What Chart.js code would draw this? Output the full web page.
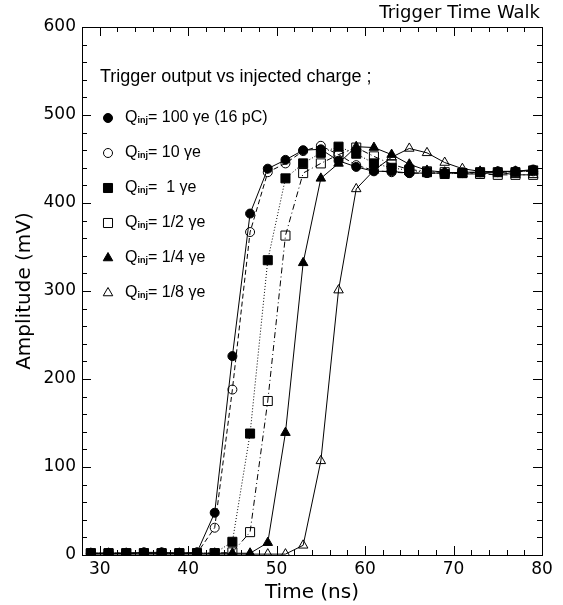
<!DOCTYPE html>
<html>
<head>
<meta charset="utf-8">
<script src="https://cdn.jsdelivr.net/npm/chart.js@4/dist/chart.umd.min.js"></script>
<style>
  html, body { margin: 0; background: #fff; }
  #wrap { width: 563px; height: 605px; }
</style>
</head>
<body>
<div id="wrap"><canvas id="walkChart"></canvas></div>
<script>
// injection time (ns) and amplitudes (mV)
const times = [29,31,33,35,37,39,41,43,45,47,49,51,53,55,57,59,61,63,65,67,69,71,73,75,77,79];
const amp100     = [2,2,2,3,3,2,3,48,226,388,439,449,460,461,448,441,436,436,434,434,434,435,435,436,436,438];
const amp10      = [2,2,2,2,2,2,2,31,188,367,435,445,459,465,455,443,437,435,434,434,434,434,435,435,436,436];
const amp1       = [2,2,2,2,2,2,2,2,15,138,335,428,445,457,464,456,445,440,437,435,433,434,435,435,435,437];
const ampHalf    = [2,2,2,2,2,2,2,2,3,26,175,363,434,445,455,463,453,444,438,436,435,434,433,432,432,432];
const ampQuarter = [2,2,2,2,2,2,2,2,2,2,14,139,332,428,445,464,463,455,444,437,435,433,433,435,436,437];
const ampEighth  = [1,1,1,1,1,1,1,1,1,1,1,1,11,107,301,416,437,452,462,457,446,439,436,435,432,432];

const chargeLabels = ['100 \u03b3e (16 pC)', '10 \u03b3e', ' 1 \u03b3e', '1/2 \u03b3e', '1/4 \u03b3e', '1/8 \u03b3e'];
const xTickLabels = [30, 40, 50, 60, 70, 80];
const yTickLabels = [0, 100, 200, 300, 400, 500, 600];

const series = [amp100, amp10, amp1, ampHalf, ampQuarter, ampEighth];
const markers = [
  { style: 'circle',   filled: true,  r: 4.5, dash: [] },
  { style: 'circle',   filled: false, r: 4.5, dash: [5, 3] },
  { style: 'rect',     filled: true,  r: 6.4, dash: [1, 2] },
  { style: 'rect',     filled: false, r: 6.4, dash: [6, 3, 1, 3] },
  { style: 'triangle', filled: true,  r: 5.5, dash: [] },
  { style: 'triangle', filled: false, r: 5.5, dash: [] }
];

const datasets = series.map((vals, i) => ({
  label: chargeLabels[i],
  data: times.map((t, j) => ({ x: t, y: vals[j] })),
  borderColor: '#000',
  borderWidth: 1,
  borderDash: markers[i].dash,
  pointStyle: markers[i].style,
  pointRadius: markers[i].r,
  pointBorderWidth: 1,
  pointBorderColor: '#000',
  pointBackgroundColor: markers[i].filled ? '#000' : 'rgba(0,0,0,0)',
  tension: 0
}));

// frame with inward ticks on all four sides, title and the text legend
const frameAndLegend = {
  id: 'frameAndLegend',
  afterDraw(chart) {
    const { ctx, chartArea: a, scales: { x, y } } = chart;
    ctx.save();
    ctx.strokeStyle = '#000';
    ctx.lineWidth = 1;
    ctx.setLineDash([]);
    ctx.strokeRect(Math.round(a.left) + 0.5, Math.round(a.top) + 0.5,
                   Math.round(a.right - a.left), Math.round(a.bottom - a.top));
    ctx.beginPath();
    for (let v = 28; v <= 80; v += 2) {
      const px = Math.round(x.getPixelForValue(v)) + 0.5;
      const len = v % 10 === 0 ? 9 : 5;
      ctx.moveTo(px, a.bottom); ctx.lineTo(px, a.bottom - len);
      ctx.moveTo(px, a.top); ctx.lineTo(px, a.top + len);
    }
    for (let v = 0; v <= 600; v += 20) {
      const py = Math.round(y.getPixelForValue(v)) + 0.5;
      const len = v % 100 === 0 ? 9 : 5;
      ctx.moveTo(a.left, py); ctx.lineTo(a.left + len, py);
      ctx.moveTo(a.right, py); ctx.lineTo(a.right - len, py);
    }
    ctx.stroke();

    ctx.fillStyle = '#000';
    ctx.textBaseline = 'middle';
    ctx.textAlign = 'right';
    ctx.font = '18px "DejaVu Sans"';
    ctx.fillText('Trigger Time Walk', 540, 13);

    ctx.textAlign = 'left';
    ctx.font = '18px "Liberation Sans"';
    ctx.fillText('Trigger output vs injected charge ;', 100, 77);

    chart.data.datasets.forEach((ds, i) => {
      const ly = 118 + i * 35;
      ctx.fillStyle = ds.pointBackgroundColor;
      ctx.strokeStyle = '#000';
      Chart.helpers.drawPoint(ctx, { pointStyle: ds.pointStyle, radius: ds.pointRadius, rotation: 0, borderWidth: 1 }, 108, ly);
      ctx.fillStyle = '#000';
      let tx = 125;
      ctx.font = '16px "Liberation Sans"';
      ctx.fillText('Q', tx, ly);
      tx += ctx.measureText('Q').width;
      ctx.font = 'bold 9px "Liberation Sans"';
      ctx.fillText('inj', tx, ly + 3);
      tx += ctx.measureText('inj').width;
      ctx.font = '16px "Liberation Sans"';
      ctx.fillText('= ' + ds.label, tx, ly);
    });
    ctx.restore();
  }
};

const tickFont = { family: 'DejaVu Sans', size: 17 };

new Chart(document.getElementById('walkChart'), {
  type: 'line',
  data: { datasets },
  options: {
    responsive: true,
    maintainAspectRatio: false,
    animation: false,
    layout: { padding: { top: 27, right: 21, left: 0, bottom: 0 } },
    plugins: {
      legend: { display: false },
      tooltip: { enabled: false },
      title: { display: false }
    },
    scales: {
      x: {
        type: 'linear',
        min: 28,
        max: 80,
        afterBuildTicks: s => { s.ticks = xTickLabels.map(v => ({ value: v })); },
        afterFit: s => { s.height = 50; },
        grid: { display: false, drawTicks: false },
        border: { display: false },
        ticks: { color: '#000', font: tickFont, padding: 4, maxRotation: 0 },
        title: { display: true, text: 'Time (ns)', color: '#000', font: { family: 'DejaVu Sans', size: 20 }, padding: 0 }
      },
      y: {
        type: 'linear',
        min: 0,
        max: 600,
        afterBuildTicks: s => { s.ticks = yTickLabels.map(v => ({ value: v })); },
        afterFit: s => { s.width = 82; },
        grid: { display: false, drawTicks: false },
        border: { display: false },
        ticks: { color: '#000', font: tickFont, padding: 6 },
        title: { display: true, text: 'Amplitude (mV)', color: '#000', font: { family: 'DejaVu Sans', size: 20 }, padding: { top: 13, bottom: 0 } }
      }
    }
  },
  plugins: [frameAndLegend]
});
</script>
</body>
</html>
